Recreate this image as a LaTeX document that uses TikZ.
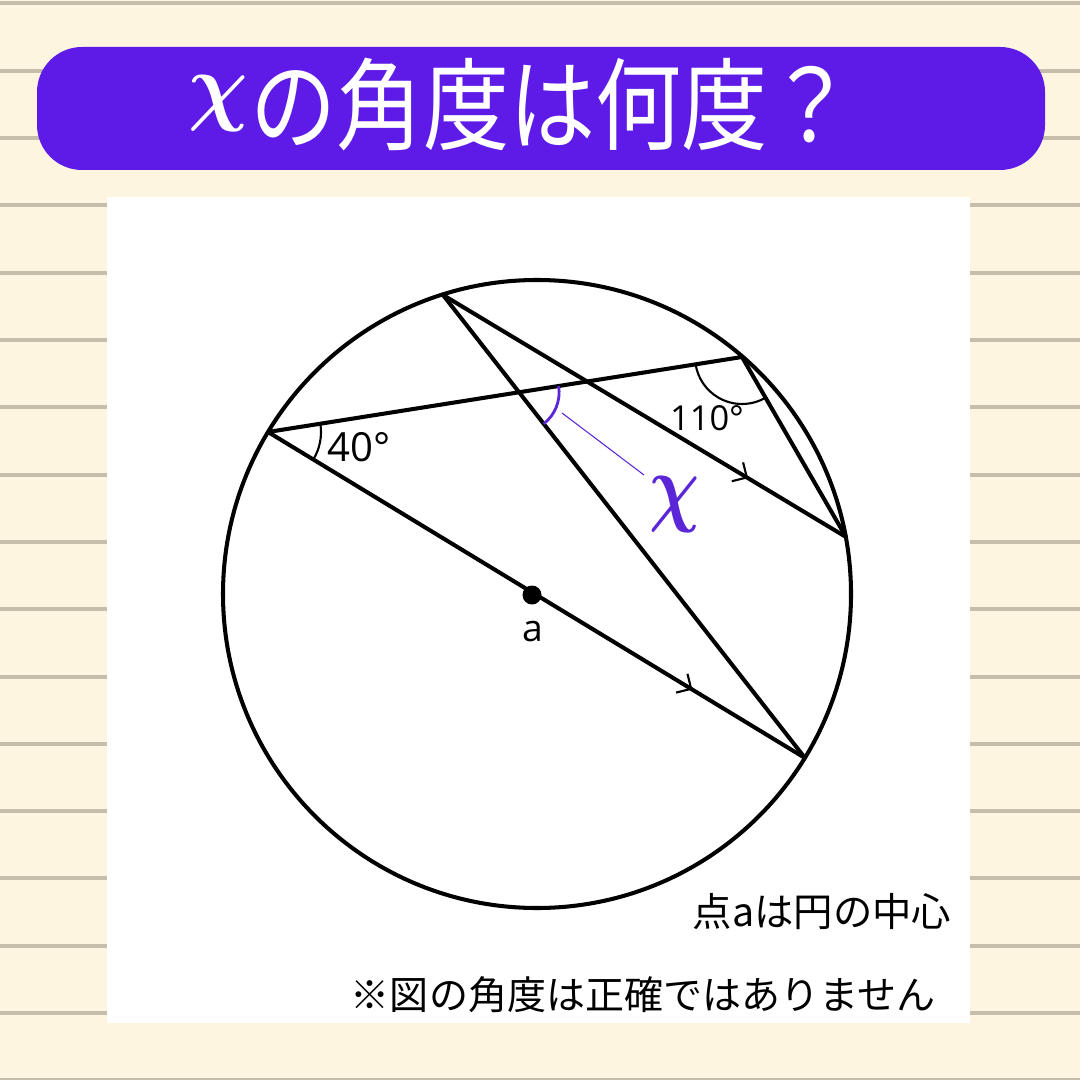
\documentclass[tikz,border=0pt]{standalone}
\usepackage{bm}
\usepackage{fontspec}
\setmainfont{Open Sans}
\newfontfamily\jp{Noto Sans CJK JP}
\usetikzlibrary{decorations.markings,calc}
\definecolor{bgc}{HTML}{FDF5DF}
\definecolor{rulec}{HTML}{C6BDAA}
\definecolor{vio}{HTML}{5E1BE8}
\definecolor{xvio}{HTML}{5A26D8}
\begin{document}
\begin{tikzpicture}[x=0.01cm,y=-0.01cm,
  geo/.style={line width=1.15pt,black},
  angarc/.style={line width=0.6pt,black},
  pmark/.style={postaction={decorate,decoration={markings,
      mark=at position #1 with {\draw[line width=0.6pt] (-11,-11) -- (0,0) -- (-11,11);}}}},
  lbl/.style={inner sep=0pt}]
\useasboundingbox (0,0) rectangle (1080,1080);
% background
\fill[bgc] (0,0) rectangle (1080,1080);
\foreach \k in {0,...,16} \fill[rulec] (0,{1.5+67.3*\k}) rectangle (1080,{5.5+67.3*\k});
\fill[white] (107,197) rectangle (970,1023);
% title bar
\fill[vio, rounded corners=0.45cm] (37,47) rectangle (1045,170);
\node[lbl,text=white] (tx) at (218,104) {\scalebox{0.95}[1]{\fontsize{36pt}{36pt}\selectfont$\bm{\chi}$}};
\node[lbl,text=white,anchor=base west] (tt) at (250,143) {\scalebox{0.86}[1]{\fontsize{28.5pt}{28.5pt}\selectfont\jp の角度は何度？}};
% geometry
\coordinate (O) at (537,594);
\coordinate (A) at (268,432);
\coordinate (B) at (443,295);
\coordinate (C) at (742,357);
\coordinate (D) at (846,537);
\coordinate (E) at (805,758);
\draw[geo] (O) circle[radius=314];
\draw[geo] (A) -- (C);
\draw[geo,pmark=0.788] (A) -- (E);
\draw[geo,pmark=0.754] (B) -- (D);
\draw[geo] (B) -- (E);
\draw[geo] (C) -- (D);
\coordinate (I) at (intersection of A--C and B--E);
% angle arcs
\draw[angarc] ([shift={(-9:53)}]A) arc[start angle=-9, end angle=31.3, radius=53];
\draw[angarc] ([shift={(60:47)}]C) arc[start angle=60, end angle=171, radius=47];
\draw[xvio,line width=0.8pt] ([shift={(-9:40)}]I) arc[start angle=-9, end angle=52, radius=40];
\coordinate (L1) at (562,413);
\coordinate (L2) at (644,475);
\draw[xvio,line width=0.3pt] (L1) -- (L2);
% centre dot
\fill (532,595) circle[radius=9.5];
% labels
\node[lbl] (l40) at (359,447) {\fontsize{11.4pt}{11.4pt}\selectfont 40°};
\node[lbl] (l110) at (707,418) {\fontsize{9.8pt}{9.8pt}\selectfont 110°};
\node[lbl] (la) at (533,632) {\fontsize{10.6pt}{10.6pt}\selectfont a};
\node[lbl,text=xvio] (xl) at (675,505) {\scalebox{0.8}[1]{\fontsize{26.4pt}{26.4pt}\selectfont$\bm{\chi}$}};
% notes
\node[lbl,anchor=east] (n1) at (952,912) {\fontsize{11.2pt}{11.2pt}\selectfont\jp 点aは円の中心};
\node[lbl,anchor=east] (n2) at (936,995) {\fontsize{11.1pt}{11.1pt}\selectfont\jp ※図の角度は正確ではありません};
\end{tikzpicture}
\end{document}
